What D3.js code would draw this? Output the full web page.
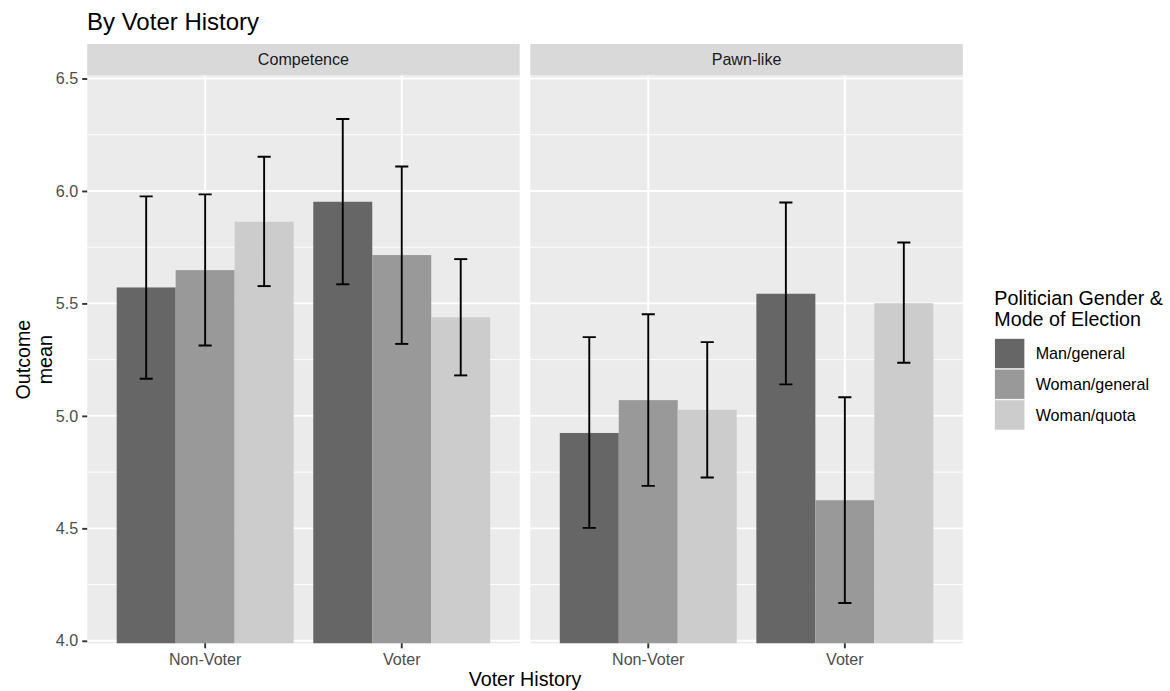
<!DOCTYPE html>
<html>
<head>
<meta charset="utf-8">
<script src="https://cdn.jsdelivr.net/npm/d3@7"></script>
<style>
  html, body { margin: 0; padding: 0; background: #fff; }
  svg { display: block; font-family: "Liberation Sans", Arial, Helvetica, sans-serif; }
</style>
</head>
<body>
<svg id="chart" width="1170" height="691"></svg>
<script>
// ---------- data ----------
const chartTitle = "By Voter History";
const facets = ["Competence", "Pawn-like"];
const categories = ["Non-Voter", "Voter"];
const groups = ["Man/general", "Woman/general", "Woman/quota"];
const groupColors = ["#666666", "#999999", "#CCCCCC"];
// order: Non-Voter (Man/general, Woman/general, Woman/quota), then Voter (same)
const competenceMean = [5.571, 5.648, 5.863, 5.952, 5.715, 5.438];
const competenceLow  = [5.165, 5.313, 5.577, 5.585, 5.320, 5.180];
const competenceHigh = [5.976, 5.985, 6.152, 6.320, 6.109, 5.697];
const pawnMean = [4.924, 5.070, 5.027, 5.543, 4.625, 5.501];
const pawnLow  = [4.502, 4.689, 4.726, 5.140, 4.168, 5.236];
const pawnHigh = [5.350, 5.452, 5.328, 5.949, 5.083, 5.771];
const yTicks = [4.0, 4.5, 5.0, 5.5, 6.0, 6.5];
const yMinorTicks = [4.25, 4.75, 5.25, 5.75, 6.25];
const xTitle = "Voter History";
const yTitleLines = ["Outcome", "mean"];
const legendTitleLines = ["Politician Gender &", "Mode of Election"];

const facetData = [
  { name: facets[0], mean: competenceMean, low: competenceLow, high: competenceHigh },
  { name: facets[1], mean: pawnMean, low: pawnLow, high: pawnHigh }
];

// ---------- layout ----------
const svg = d3.select("#chart");
svg.append("rect").attr("width", 1170).attr("height", 691).attr("fill", "#fff");

const panelW = 432.5;
const panelLefts = [87.2, 530.3];
const panelTop = 76, panelBottom = 643.3;
const stripTop = 44, stripBottom = 75.5;
const smallFont = 16.1;

const y = d3.scaleLinear().domain([3.9889, 6.5111]).range([panelBottom, panelTop]);
const x = d3.scaleBand().domain(categories).range([0, panelW]).paddingInner(0.1).paddingOuter(0.15);
const xg = d3.scaleBand().domain(groups).range([0, x.bandwidth()]).padding(0);
const color = d3.scaleOrdinal().domain(groups).range(groupColors);

const defs = svg.append("defs");

facetData.forEach((f, fi) => {
  const left = panelLefts[fi];
  const g = svg.append("g").attr("transform", `translate(${left},0)`);
  defs.append("clipPath").attr("id", "clip" + fi)
    .append("rect").attr("x", 0).attr("y", panelTop).attr("width", panelW).attr("height", panelBottom - panelTop);

  // panel background
  g.append("rect").attr("x", 0).attr("y", panelTop).attr("width", panelW).attr("height", panelBottom - panelTop)
    .attr("fill", "#EBEBEB");
  // minor grid
  g.selectAll(".minor").data(yMinorTicks).enter().append("line")
    .attr("x1", 0).attr("x2", panelW).attr("y1", d => y(d)).attr("y2", d => y(d))
    .attr("stroke", "#fff").attr("stroke-width", 0.95);
  // major grid
  g.selectAll(".major").data(yTicks).enter().append("line")
    .attr("x1", 0).attr("x2", panelW).attr("y1", d => y(d)).attr("y2", d => y(d))
    .attr("stroke", "#fff").attr("stroke-width", 1.9);
  g.selectAll(".vmajor").data(categories).enter().append("line")
    .attr("x1", d => x(d) + x.bandwidth() / 2).attr("x2", d => x(d) + x.bandwidth() / 2)
    .attr("y1", panelTop).attr("y2", panelBottom)
    .attr("stroke", "#fff").attr("stroke-width", 1.9);

  // rows
  const rows = [];
  categories.forEach((c, ci) => groups.forEach((gr, gi) => {
    const k = ci * groups.length + gi;
    rows.push({ cat: c, group: gr, mean: f.mean[k], low: f.low[k], high: f.high[k] });
  }));

  const clipG = g.append("g").attr("clip-path", `url(#clip${fi})`);
  clipG.selectAll(".bar").data(rows).enter().append("rect")
    .attr("x", d => x(d.cat) + xg(d.group))
    .attr("width", xg.bandwidth())
    .attr("y", d => y(d.mean))
    .attr("height", d => y(0) - y(d.mean))
    .attr("fill", d => color(d.group));

  const capW = (0.2 / 3) * x.step();
  const eb = clipG.selectAll(".eb").data(rows).enter().append("g")
    .attr("transform", d => `translate(${x(d.cat) + xg(d.group) + xg.bandwidth() / 2},0)`);
  eb.append("line").attr("x1", 0).attr("x2", 0).attr("y1", d => y(d.low)).attr("y2", d => y(d.high))
    .attr("stroke", "#000").attr("stroke-width", 1.9);
  eb.append("line").attr("x1", -capW / 2).attr("x2", capW / 2).attr("y1", d => y(d.low)).attr("y2", d => y(d.low))
    .attr("stroke", "#000").attr("stroke-width", 1.9);
  eb.append("line").attr("x1", -capW / 2).attr("x2", capW / 2).attr("y1", d => y(d.high)).attr("y2", d => y(d.high))
    .attr("stroke", "#000").attr("stroke-width", 1.9);

  // strip
  g.append("rect").attr("x", 0).attr("y", stripTop).attr("width", panelW).attr("height", stripBottom - stripTop)
    .attr("fill", "#D9D9D9");
  g.append("text").attr("x", panelW / 2).attr("y", (stripTop + stripBottom) / 2 + 5.7)
    .attr("text-anchor", "middle").attr("font-size", smallFont).attr("fill", "#1A1A1A").text(f.name);

  // x axis
  const xAxis = d3.axisBottom(x).tickSize(5).tickPadding(5);
  const xa = g.append("g").attr("transform", `translate(0,${panelBottom})`).call(xAxis);
  xa.select(".domain").remove();
  xa.selectAll(".tick line").attr("stroke", "#333333").attr("stroke-width", 1.9);
  xa.selectAll(".tick text").attr("font-size", smallFont).attr("fill", "#4D4D4D")
    .attr("font-family", "Liberation Sans, Arial, sans-serif");

  // y axis only on first panel
  if (fi === 0) {
    const yAxis = d3.axisLeft(y).tickValues(yTicks).tickFormat(d3.format(".1f")).tickSize(5).tickPadding(4);
    const ya = g.append("g").call(yAxis);
    ya.select(".domain").remove();
    ya.selectAll(".tick line").attr("stroke", "#333333").attr("stroke-width", 1.9);
    ya.selectAll(".tick text").attr("font-size", smallFont).attr("fill", "#4D4D4D")
      .attr("font-family", "Liberation Sans, Arial, sans-serif");
  }
});

// title
svg.append("text").attr("x", 87).attr("y", 30).attr("font-size", 24).attr("fill", "#000").text(chartTitle);

// x title
svg.append("text").attr("x", (panelLefts[0] + panelLefts[1] + panelW) / 2).attr("y", 686)
  .attr("text-anchor", "middle").attr("font-size", 19.7).attr("fill", "#000").text(xTitle);

// y title
const yMid = (panelTop + panelBottom) / 2;
yTitleLines.forEach((t, i) => {
  svg.append("text").attr("transform", `translate(${30 + i * 22},${yMid}) rotate(-90)`)
    .attr("text-anchor", "middle").attr("font-size", 19.7).attr("fill", "#000").text(t);
});

// legend
const lx = 994.3;
legendTitleLines.forEach((t, i) => {
  svg.append("text").attr("x", lx).attr("y", 304.5 + i * 21.5).attr("font-size", 19.7).attr("fill", "#000").text(t);
});
const keySize = 30.7, keyTop = 338.2;
groups.forEach((gr, i) => {
  const ky = keyTop + i * keySize;
  svg.append("rect").attr("x", lx).attr("y", ky).attr("width", keySize).attr("height", keySize).attr("fill", "#F2F2F2");
  svg.append("rect").attr("x", lx + 0.7).attr("y", ky + 0.7).attr("width", keySize - 1.4).attr("height", keySize - 1.4)
    .attr("fill", color(gr));
  svg.append("text").attr("x", 1035.7).attr("y", ky + keySize / 2 + 5.6).attr("font-size", smallFont).attr("fill", "#000").text(gr);
});
</script>
</body>
</html>
